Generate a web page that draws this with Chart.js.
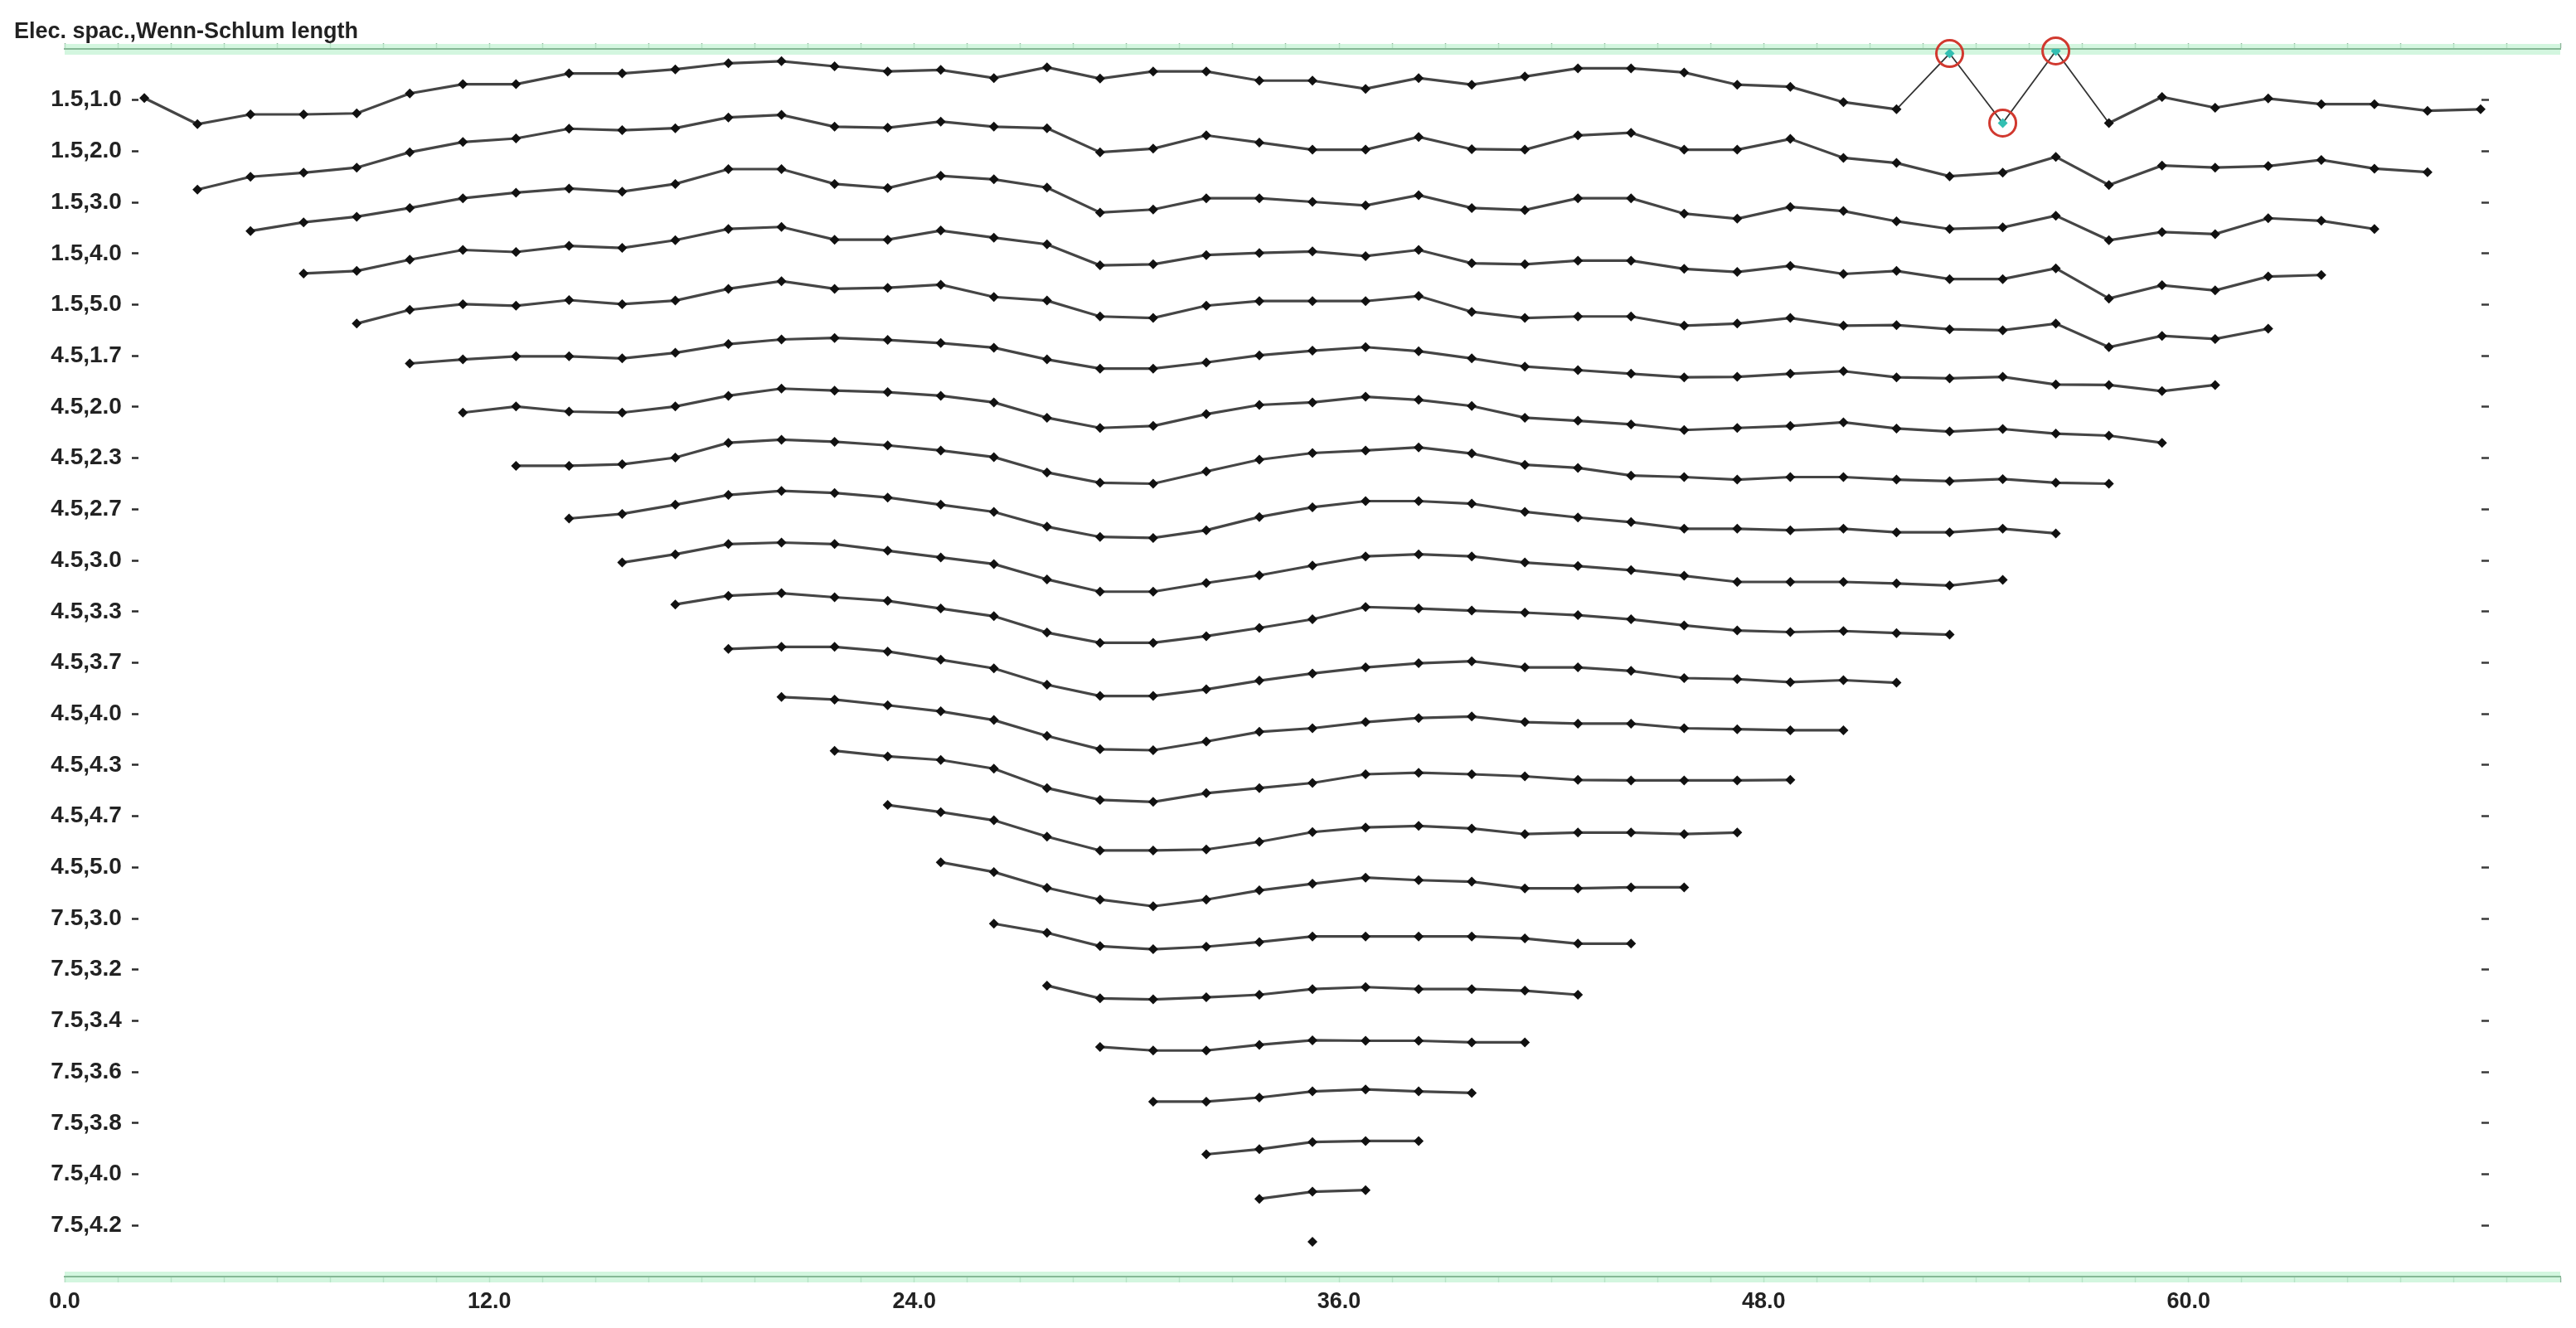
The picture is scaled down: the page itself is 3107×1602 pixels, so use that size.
<!DOCTYPE html>
<html>
<head>
<meta charset="utf-8">
<script src="https://cdn.jsdelivr.net/npm/chart.js@4.4.1/dist/chart.umd.min.js"></script>
<style>
  html, body { margin: 0; padding: 0; background: #ffffff; }
  #wrap { width: 3107px; height: 1602px; }
</style>
</head>
<body>
<div id="wrap"><canvas id="c" width="3107" height="1602"></canvas></div>
<script>
// ---------------- DATA ----------------
const chartTitle = 'Elec. spac.,Wenn-Schlum length';

// row (level) labels, top to bottom
const rowLabels = ['1.5,1.0','1.5,2.0','1.5,3.0','1.5,4.0','1.5,5.0',
  '4.5,1.7','4.5,2.0','4.5,2.3','4.5,2.7','4.5,3.0','4.5,3.3','4.5,3.7',
  '4.5,4.0','4.5,4.3','4.5,4.7','4.5,5.0',
  '7.5,3.0','7.5,3.2','7.5,3.4','7.5,3.6','7.5,3.8','7.5,4.0','7.5,4.2'];

// horizontal positions of the data points (row r starts at xPositions[r])
const xPositions = [2.25, 3.75, 5.25, 6.75, 8.25, 9.75, 11.25, 12.75, 14.25, 15.75,
  17.25, 18.75, 20.25, 21.75, 23.25, 24.75, 26.25, 27.75, 29.25, 30.75,
  32.25, 33.75, 35.25, 36.75, 38.25, 39.75, 41.25, 42.75, 44.25, 45.75,
  47.25, 48.75, 50.25, 51.75, 53.25, 54.75, 56.25, 57.75, 59.25, 60.75,
  62.25, 63.75, 65.25, 66.75, 68.25];

// x tick labels
const xLabelValues = [0, 12, 24, 36, 48, 60];
const xTickLabels = ['0.0', '12.0', '24.0', '36.0', '48.0', '60.0'];

// profile deflection of each point from its level line (row units, up = positive)
const r01 = [0.04, -0.47, -0.28, -0.28, -0.26, 0.13, 0.31, 0.31, 0.52, 0.52, 0.60, 0.72, 0.76, 0.66, 0.56, 0.59, 0.43, 0.64, 0.42, 0.56, 0.56, 0.38, 0.38, 0.22, 0.43, 0.30, 0.46, 0.62, 0.62, 0.54, 0.30, 0.26, -0.04, -0.18, 0.91, -0.45, 0.96, -0.45, 0.06, -0.15, 0.03, -0.08, -0.08, -0.21, -0.18];
const r02 = [-0.75, -0.50, -0.42, -0.32, -0.02, 0.18, 0.25, 0.44, 0.41, 0.45, 0.66, 0.71, 0.48, 0.46, 0.58, 0.48, 0.45, -0.02, 0.05, 0.31, 0.17, 0.03, 0.03, 0.28, 0.04, 0.03, 0.31, 0.36, 0.03, 0.03, 0.24, -0.13, -0.23, -0.49, -0.42, -0.11, -0.66, -0.28, -0.32, -0.29, -0.17, -0.34, -0.41];
const r03 = [-0.56, -0.39, -0.28, -0.11, 0.08, 0.19, 0.27, 0.21, 0.36, 0.65, 0.65, 0.36, 0.28, 0.52, 0.45, 0.29, -0.20, -0.14, 0.08, 0.08, 0.01, -0.06, 0.14, -0.11, -0.15, 0.08, 0.08, -0.22, -0.32, -0.09, -0.17, -0.37, -0.52, -0.49, -0.26, -0.74, -0.58, -0.62, -0.31, -0.36, -0.52];
const r04 = [-0.39, -0.34, -0.12, 0.07, 0.03, 0.15, 0.11, 0.26, 0.48, 0.52, 0.27, 0.27, 0.45, 0.31, 0.18, -0.23, -0.21, -0.03, 0.01, 0.04, -0.05, 0.07, -0.19, -0.21, -0.14, -0.14, -0.30, -0.36, -0.24, -0.40, -0.34, -0.50, -0.50, -0.29, -0.88, -0.62, -0.72, -0.45, -0.42];
const r05 = [-0.37, -0.10, 0.01, -0.02, 0.09, 0.01, 0.08, 0.31, 0.46, 0.31, 0.33, 0.39, 0.15, 0.08, -0.23, -0.26, -0.02, 0.07, 0.07, 0.07, 0.17, -0.14, -0.26, -0.23, -0.23, -0.41, -0.37, -0.26, -0.41, -0.40, -0.48, -0.50, -0.37, -0.83, -0.61, -0.67, -0.47];
const r06 = [-0.15, -0.07, -0.01, -0.01, -0.05, 0.06, 0.23, 0.32, 0.35, 0.31, 0.25, 0.16, -0.07, -0.25, -0.25, -0.13, 0.01, 0.10, 0.17, 0.09, -0.05, -0.21, -0.28, -0.35, -0.42, -0.41, -0.35, -0.30, -0.42, -0.44, -0.41, -0.56, -0.57, -0.69, -0.57];
const r07 = [-0.11, 0.01, -0.09, -0.11, 0.01, 0.22, 0.36, 0.32, 0.29, 0.22, 0.09, -0.21, -0.41, -0.37, -0.14, 0.04, 0.09, 0.20, 0.14, 0.02, -0.21, -0.27, -0.34, -0.45, -0.41, -0.37, -0.30, -0.42, -0.48, -0.43, -0.52, -0.56, -0.70];
const r08 = [-0.15, -0.15, -0.12, 0.01, 0.30, 0.36, 0.32, 0.25, 0.15, 0.02, -0.28, -0.48, -0.50, -0.26, -0.03, 0.10, 0.15, 0.21, 0.09, -0.13, -0.19, -0.34, -0.37, -0.42, -0.37, -0.37, -0.42, -0.45, -0.41, -0.48, -0.50];
const r09 = [-0.18, -0.09, 0.09, 0.28, 0.36, 0.32, 0.23, 0.09, -0.05, -0.34, -0.54, -0.56, -0.41, -0.15, 0.04, 0.16, 0.16, 0.11, -0.05, -0.16, -0.25, -0.38, -0.38, -0.41, -0.38, -0.45, -0.45, -0.38, -0.47];
const r10 = [-0.04, 0.12, 0.32, 0.35, 0.32, 0.19, 0.06, -0.07, -0.37, -0.61, -0.61, -0.44, -0.29, -0.10, 0.08, 0.12, 0.08, -0.04, -0.11, -0.19, -0.30, -0.42, -0.42, -0.42, -0.45, -0.49, -0.38];
const r11 = [0.14, 0.31, 0.36, 0.28, 0.21, 0.06, -0.09, -0.41, -0.61, -0.61, -0.48, -0.32, -0.15, 0.09, 0.06, 0.02, -0.02, -0.07, -0.15, -0.27, -0.37, -0.40, -0.38, -0.42, -0.45];
const r12 = [0.27, 0.31, 0.31, 0.22, 0.06, -0.11, -0.43, -0.65, -0.65, -0.52, -0.35, -0.21, -0.09, -0.01, 0.03, -0.09, -0.09, -0.16, -0.30, -0.32, -0.38, -0.34, -0.39];
const r13 = [0.33, 0.28, 0.17, 0.05, -0.12, -0.43, -0.69, -0.71, -0.54, -0.35, -0.28, -0.16, -0.08, -0.05, -0.16, -0.19, -0.19, -0.28, -0.30, -0.32, -0.32];
const r14 = [0.28, 0.17, 0.10, -0.07, -0.45, -0.68, -0.72, -0.55, -0.45, -0.35, -0.18, -0.15, -0.18, -0.22, -0.29, -0.30, -0.30, -0.30, -0.29];
const r15 = [0.22, 0.08, -0.08, -0.40, -0.67, -0.67, -0.65, -0.50, -0.31, -0.22, -0.19, -0.24, -0.35, -0.32, -0.32, -0.35, -0.32];
const r16 = [0.10, -0.09, -0.40, -0.63, -0.76, -0.63, -0.45, -0.32, -0.20, -0.25, -0.28, -0.41, -0.41, -0.39, -0.39];
const r17 = [-0.10, -0.28, -0.54, -0.60, -0.55, -0.46, -0.35, -0.35, -0.35, -0.35, -0.39, -0.49, -0.49];
const r18 = [-0.31, -0.56, -0.58, -0.54, -0.49, -0.38, -0.34, -0.38, -0.38, -0.41, -0.49];
const r19 = [-0.51, -0.58, -0.58, -0.47, -0.38, -0.39, -0.39, -0.42, -0.42];
const r20 = [-0.58, -0.58, -0.50, -0.38, -0.34, -0.38, -0.41];
const r21 = [-0.61, -0.51, -0.37, -0.35, -0.35];
const r22 = [-0.48, -0.34, -0.31];
const r23 = [-0.32];

// points flagged as bad data (indices in the first row)
const flaggedPoints = [34, 35, 36];

const rows = [r01, r02, r03, r04, r05, r06, r07, r08, r09, r10, r11, r12,
  r13, r14, r15, r16, r17, r18, r19, r20, r21, r22, r23];

// ---------------- CHART ----------------
const FONT = "'Liberation Sans', Arial, Helvetica, sans-serif";
const TEXT = '#222222';
const GREEN = '#86b896';
const HALO = 'rgba(196,243,212,0.75)';
const TICKGREEN = '#8fb79c';

const xTickValues = [];
for (let v = 0; v <= 70.5 + 1e-9; v += 1.5) xTickValues.push(v);
const rowTickValues = rowLabels.map((_, i) => i);
const edgeTickValues = [-1].concat(rowTickValues, [23]);

const datasets = rows.map((vals, r) => {
  const ds = {
    label: rowLabels[r],
    data: vals.map((v, k) => ({ x: xPositions[r + k], y: r - v })),
    showLine: true,
    borderColor: '#454545',
    borderWidth: 3.2,
    pointStyle: 'rectRot',
    pointRadius: 6,
    pointBorderWidth: 0,
    pointBackgroundColor: '#111111',
    xAxisID: 'x',
    yAxisID: 'y',
    order: 1
  };
  if (r === 0) {
    ds.pointBackgroundColor = ctx => flaggedPoints.includes(ctx.dataIndex) ? '#33bfb2' : '#111111';
    ds.segment = {
      borderWidth: ctx => (flaggedPoints.includes(ctx.p0DataIndex) || flaggedPoints.includes(ctx.p1DataIndex)) ? 1.8 : undefined,
      borderColor: ctx => (flaggedPoints.includes(ctx.p0DataIndex) || flaggedPoints.includes(ctx.p1DataIndex)) ? '#333333' : undefined
    };
  }
  return ds;
});

datasets.push({
  label: 'flagged',
  data: flaggedPoints.map(j => ({ x: xPositions[j], y: 0 - r01[j] })),
  showLine: false,
  pointStyle: 'circle',
  pointRadius: 16,
  pointBorderWidth: 3,
  pointBorderColor: '#d1392f',
  pointBackgroundColor: 'rgba(255,255,255,0)',
  xAxisID: 'x',
  yAxisID: 'y',
  clip: false,
  order: -1
});

const isEdge = v => v === -1 || v === 23;

new Chart(document.getElementById('c'), {
  type: 'scatter',
  data: { datasets },
  options: {
    responsive: false,
    maintainAspectRatio: false,
    devicePixelRatio: 1,
    animation: false,
    events: [],
    layout: { padding: { left: 17, right: 15, top: 0, bottom: 0 } },
    plugins: {
      legend: { display: false },
      tooltip: { enabled: false },
      title: {
        display: true,
        text: chartTitle,
        align: 'start',
        color: TEXT,
        font: { family: FONT, size: 27, weight: 'bold' },
        padding: { top: 22, bottom: 0 }
      }
    },
    scales: {
      x: {
        type: 'linear', position: 'bottom', min: 0, max: 70.5,
        afterBuildTicks: s => { s.ticks = xTickValues.map(v => ({ value: v })); },
        afterFit: s => { s.height = 62; },
        ticks: {
          autoSkip: false, maxRotation: 0, minRotation: 0, padding: 7,
          color: TEXT, font: { family: FONT, size: 27, weight: 'bold' },
          callback: v => { const i = xLabelValues.indexOf(v); return i >= 0 ? xTickLabels[i] : ''; }
        },
        grid: { drawOnChartArea: false, drawTicks: true, tickLength: 7, tickColor: TICKGREEN, tickWidth: 1.5 },
        border: { display: true, color: GREEN, width: 2 }
      },
      x2: {
        type: 'linear', position: 'top', axis: 'x', min: 0, max: 70.5,
        afterBuildTicks: s => { s.ticks = xTickValues.map(v => ({ value: v })); },
        afterFit: s => { s.height = 4.6; },
        ticks: { display: false },
        grid: { drawOnChartArea: false, drawTicks: true, tickLength: 7, tickColor: TICKGREEN, tickWidth: 1.5 },
        border: { display: true, color: GREEN, width: 2 }
      },
      yPad: {
        type: 'linear', position: 'left', axis: 'y', display: true,
        ticks: { display: false }, grid: { display: false }, border: { display: false },
        afterFit: s => { s.width = 61; }
      },
      y: {
        type: 'linear', axis: 'y', position: { x: 1.614 }, min: -1, max: 23, reverse: true, display: true,
        afterBuildTicks: s => { s.ticks = edgeTickValues.map(v => ({ value: v })); },
        ticks: {
          autoSkip: false, color: TEXT, font: { family: FONT, size: 28, weight: 'bold' },
          callback: v => (rowLabels[v] !== undefined ? rowLabels[v] : '')
        },
        grid: {
          drawOnChartArea: true, drawTicks: false,
          color: ctx => (ctx.tick && isEdge(ctx.tick.value)) ? HALO : 'rgba(0,0,0,0)',
          lineWidth: ctx => (ctx.tick && isEdge(ctx.tick.value)) ? 13 : 0
        },
        border: { display: false }
      },
      yTickL: {
        type: 'linear', axis: 'y', position: { x: 2.08 }, min: -1, max: 23, reverse: true, display: true,
        afterBuildTicks: s => { s.ticks = rowTickValues.map(v => ({ value: v })); },
        ticks: { display: false },
        grid: { drawOnChartArea: false, drawTicks: true, tickLength: 8, tickColor: '#2a2a2a', tickWidth: 2.5 },
        border: { display: false }
      },
      yTickR: {
        type: 'linear', axis: 'y', position: { x: 68.49 }, min: -1, max: 23, reverse: true, display: true,
        afterBuildTicks: s => { s.ticks = rowTickValues.map(v => ({ value: v })); },
        ticks: { display: false },
        grid: { drawOnChartArea: false, drawTicks: true, tickLength: 9, tickColor: '#3a3a3a', tickWidth: 2.5 },
        border: { display: false }
      }
    }
  }
});
</script>
</body>
</html>
